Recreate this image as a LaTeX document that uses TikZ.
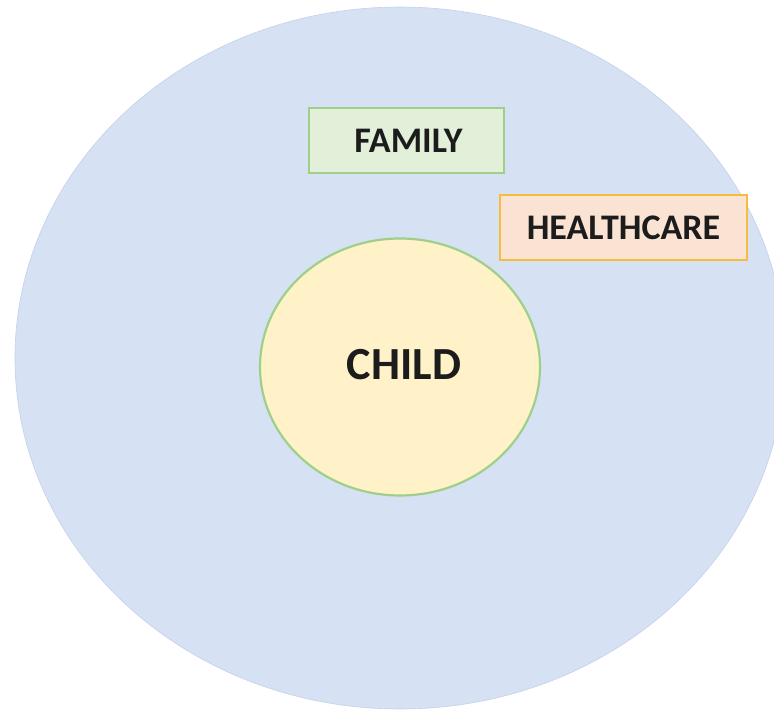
\documentclass[tikz,border=0pt]{standalone}
\usepackage{fontspec}
\setmainfont{Carlito}
\usetikzlibrary{shapes.geometric}
\definecolor{outerfill}{HTML}{D6E1F3}
\definecolor{outerline}{HTML}{C3D1EA}
\definecolor{famfill}{HTML}{E2F0D9}
\definecolor{famline}{HTML}{9FD08A}
\definecolor{hcfill}{HTML}{FBE3D4}
\definecolor{hcline}{HTML}{F4BE3C}
\definecolor{childfill}{HTML}{FFF1C8}
\definecolor{childline}{HTML}{9FD08A}
\definecolor{txt}{HTML}{1C1C1C}
\tikzset{
  labelbox/.style={draw, line width=2pt, inner sep=0pt, anchor=north west, text=txt, font=\bfseries\fontsize{36}{36}\selectfont},
}
\begin{document}
\begin{tikzpicture}[x=1pt,y=-1pt]
\useasboundingbox (0,0) rectangle (774,711);
\begin{scope}
\clip (0,0) rectangle (774,711);
\node[ellipse, draw=outerline, line width=0.6pt, fill=outerfill, minimum width=770pt, minimum height=702pt, inner sep=0pt] (world) at (400,358) {};
\end{scope}
\node[labelbox, fill=famfill, draw=famline, minimum width=195pt, minimum height=65pt] (family) at (308,107) {\hspace*{4pt}FAMILY};
\node[labelbox, fill=hcfill, draw=hcline, minimum width=247pt, minimum height=65pt] (health) at (499,194) {HEALTHCARE};
\node[ellipse, draw=childline, line width=2.2pt, fill=childfill, minimum width=280pt, minimum height=257pt, inner sep=0pt, text=txt, font=\bfseries\fontsize{46}{46}\selectfont] (child) at (400,367) {\hspace*{8pt}\raisebox{5pt}{CHILD}};
\end{tikzpicture}
\end{document}
